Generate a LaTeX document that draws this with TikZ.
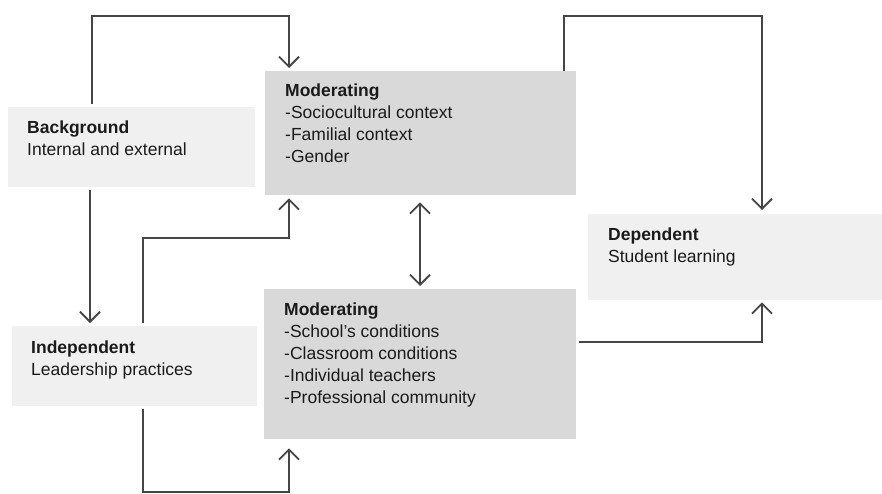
\documentclass[tikz,border=0pt]{standalone}
\usepackage{fontspec}
\setmainfont{Liberation Sans}
\usetikzlibrary{arrows.meta}
\definecolor{lightbox}{HTML}{F0F0F0}
\definecolor{darkbox}{HTML}{D9D9D9}
\definecolor{linegray}{HTML}{454545}
\definecolor{textcol}{HTML}{1A1A1A}
\begin{document}
\begin{tikzpicture}[x=1pt,y=-1pt,
  box/.style={draw=none, inner sep=0pt, anchor=north west},
  lbox/.style={box, fill=lightbox},
  dbox/.style={box, fill=darkbox},
  txt/.style={anchor=north west, align=left, inner sep=0pt, text=textcol,
    font=\fontsize{17.5}{22}\selectfont},
  conn/.style={draw=linegray, line width=1.8pt, shorten <=3pt},
  arr/.style={conn, -{Straight Barb[length=10pt, width=20pt]}, shorten >=3pt}]
\useasboundingbox (0,0) rectangle (882,494);

% boxes
\node[lbox, minimum width=247pt, minimum height=80pt] (bg) at (8,107) {};
\node[dbox, minimum width=311pt, minimum height=124pt] (mt) at (265,71) {};
\node[lbox, minimum width=294pt, minimum height=86pt] (dep) at (588,214) {};
\node[lbox, minimum width=245pt, minimum height=80pt] (ind) at (12,326) {};
\node[dbox, minimum width=312pt, minimum height=150pt] (mb) at (264,289) {};

% texts
\node[txt] (bgt) at (27,120.5) {\textbf{Background}\\Internal and external};
\node[txt] (mtt) at (285,84) {\textbf{Moderating}\\-Sociocultural context\\-Familial context\\-Gender};
\node[txt] (dept) at (608,227.5) {\textbf{Dependent}\\Student learning};
\node[txt] (indt) at (31,341) {\textbf{Independent}\\Leadership practices};
\node[txt] (mbt) at (284,303) {\textbf{Moderating}\\-School’s conditions\\-Classroom conditions\\-Individual teachers\\-Professional community};

% connectors
\coordinate (c1) at (92,16);
\coordinate (c2) at (289,16);
\draw[arr] (bg.north -| 92,0) -- (c1) -- (c2) -- (mt.north -| 289,0);

\draw[arr] (bg.south -| 90,0) -- (ind.north -| 90,0);

\coordinate (c3) at (143,238);
\coordinate (c4) at (289,238);
\draw[arr] (ind.north -| 143,0) -- (c3) -- (c4) -- (mt.south -| 289,0);

\draw[conn, {Straight Barb[length=10pt, width=20pt]}-{Straight Barb[length=10pt, width=20pt]}, shorten <=7pt, shorten >=3pt]
  (mt.south -| 420,0) -- (mb.north -| 420,0);

\coordinate (c5) at (564,16);
\coordinate (c6) at (762,16);
\draw[arr, shorten <=0pt, shorten >=4pt] (mt.north -| 564,0) -- (c5) -- (c6) -- (dep.north -| 762,0);

\coordinate (c7) at (762,342);
\draw[arr, shorten >=2pt] (mb.east |- 0,342) -- (c7) -- (dep.south -| 762,0);

\coordinate (c8) at (143,492);
\coordinate (c9) at (289,492);
\draw[arr, shorten >=9pt] (ind.south -| 143,0) -- (c8) -- (c9) -- (mb.south -| 289,0);
\end{tikzpicture}
\end{document}
